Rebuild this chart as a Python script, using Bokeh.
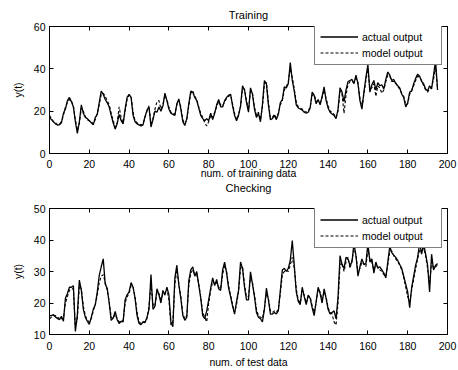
from bokeh.plotting import figure
from bokeh.models import FixedTicker, LinearAxis, Range1d, Title
from bokeh.layouts import column
from bokeh.embed import file_html
from bokeh.resources import INLINE

# ---------------- data ----------------
train_actual = [
    17, 16, 15, 14, 13.5, 13.5, 14.5, 19, 21, 25,
    26.5, 24.5, 22, 15, 9.5, 15, 23, 19, 17, 16.5,
    15.5, 14.5, 13.5, 17, 18.5, 24, 29.5, 28, 25.5, 24,
    22, 18, 14.5, 11.5, 14, 18.5, 15.5, 14, 21, 26.5,
    28, 26.5, 18, 15, 14, 13.5, 13, 13.5, 17.5, 20.5,
    22, 12.5, 16, 20, 19.5, 22, 20, 22.5, 28.5, 25,
    21, 19, 18.5, 18, 23.5, 25.8, 21, 15, 13.2, 16.5,
    23.5, 29.5, 29, 26.5, 25, 21.5, 18, 16.5, 15.5, 16.5,
    15.5, 19, 16, 19, 23, 25.5, 22, 22, 25, 26.5,
    27.5, 28, 22.5, 18, 15.5, 18, 22.5, 32, 30, 24,
    19.5, 31, 28, 21, 17, 19, 15, 23, 34.5, 33,
    23, 16, 16.5, 18, 16, 18.5, 24, 25.5, 31.5, 31,
    33, 43, 34.5, 29.5, 23, 21.5, 21, 20.5, 19.5, 19,
    19.5, 21.5, 29, 27.5, 23.5, 25.5, 23, 27, 31.5, 25,
    21.5, 19.5, 18.7, 18, 16.5, 21, 31, 29, 24.5, 30,
    34, 34.5, 35, 33, 37, 33, 25, 21, 29, 36,
    42, 29, 32.5, 34.5, 30, 33.5, 32, 32.5, 30.5, 35,
    38.5, 37, 34.5, 35, 33, 32, 31, 28, 26.5, 22,
    24, 29, 29.5, 33, 35.5, 37.5, 36.5, 34, 33, 30.5,
    29.5, 32, 30.5, 37, 44, 30,
]
train_model = [
    18, 16.5, 15, 14.5, 13.5, 14, 15, 18, 22, 24,
    25.5, 25, 22.5, 16, 11, 14, 21.5, 20, 17.5, 16,
    15.5, 15, 14, 16, 19, 23, 28, 28.5, 27, 25,
    23, 19, 15.5, 12.5, 14.5, 22, 17, 14.5, 20, 25.5,
    27.5, 27, 19.5, 15.5, 14.5, 14, 13.5, 14, 17, 20,
    22.5, 14, 16.5, 21, 24.5, 25, 21, 23, 27.5, 25.5,
    22, 19.5, 19, 18.5, 23, 25, 22, 16, 14, 16,
    22.5, 28.5, 29.5, 27, 25.5, 22, 19, 17, 14.5, 13,
    15, 18, 17, 19.5, 22, 24.5, 23, 22.5, 24.5, 26,
    27, 27.5, 23.5, 19, 16, 18.5, 22, 30.5, 30.5, 25,
    20.5, 29.5, 28.5, 22, 18, 19.5, 16, 22, 33, 33.5,
    24.5, 17, 17, 18.5, 17, 19, 23, 25, 30, 31.5,
    34, 40, 36, 30.5, 24.5, 22, 21.5, 21, 20, 19.5,
    20, 22, 27.5, 28, 24.5, 25, 24, 26.5, 30, 26,
    22.5, 20, 19.5, 18.5, 17, 20, 29.5, 28, 19, 27.5,
    32.5, 34, 34, 33.5, 35.5, 33.5, 26, 22, 28, 34.5,
    40, 30.5, 31, 33, 27, 32, 31, 28.5, 30, 34,
    37, 36.5, 34, 34, 33.5, 31.5, 30.5, 28.5, 27, 23,
    23.5, 28, 30, 32, 34.5, 36.5, 36, 34.5, 32, 30,
    29, 30.5, 31.5, 35, 41, 31,
]
test_actual = [
    16, 16, 16.3, 15.5, 15.2, 14.7, 15.8, 14.2, 21.5, 23,
    25, 25, 25.5, 11, 16.3, 27.3, 24, 18, 15.5, 14.2,
    13.2, 15.5, 18, 19.4, 23.5, 28.8, 31.5, 34, 26, 24.7,
    20, 14.5, 15.2, 17.3, 14.7, 13.5, 14.2, 14, 21, 22.6,
    23.5, 26.5, 25, 21.5, 16, 13.5, 13.1, 14, 13.8, 15.5,
    18, 29, 18, 19, 24.5, 22.6, 20, 24, 22.5, 25,
    22.6, 14, 12.5, 28, 32, 25.7, 21.5, 16, 14.5, 15.5,
    27, 30.5, 31.5, 28.5, 30, 25.7, 21.5, 16, 15, 17.5,
    21, 24.7, 28, 25.5, 27.5, 24.5, 24, 30.5, 33, 29.5,
    24.7, 22, 19, 16.5, 20.5, 24, 33, 31, 25, 21,
    21, 29.9, 26, 22, 17, 15.5, 15, 14, 18, 24.7,
    21, 16.5, 16.5, 17, 16.5, 17.5, 24, 30.5, 31, 30,
    31, 33.5, 39.8, 32, 23.5, 20.5, 19.5, 25, 22, 19.5,
    22.5, 21.5, 18.5, 16, 20.5, 25, 23, 20, 24.5, 21.5,
    18, 16.5, 17, 17.5, 15, 22, 35, 32, 31, 34.5,
    34, 32, 33, 39, 35, 28.5, 31.5, 34, 32.2, 32.5,
    39, 33, 34, 29.5, 33, 31, 31.5, 30.5, 29.5, 28,
    33, 38, 36, 35.2, 34.5, 33.5, 32.2, 31, 28.5, 26,
    23.5, 18.5, 25, 28.5, 32, 34.5, 39, 35.5, 39, 35.5,
    32, 23.5, 35.5, 30.5, 32, 32.5,
]
test_model = [
    15, 15.5, 16, 16, 15, 15.5, 15, 15, 20, 22,
    24, 24.5, 24.5, 12, 15, 25.5, 24.5, 19, 16, 14.5,
    14, 15, 17.5, 19.5, 22.5, 26.5, 28.5, 29, 26.5, 24,
    20.5, 15.5, 15, 16.5, 15, 14, 14, 14.5, 20, 22,
    23, 25.5, 25, 22, 17, 14, 13.5, 14, 14, 15,
    19, 26, 19.5, 19, 23.5, 23, 21, 23, 23, 24.5,
    21, 13, 14, 26, 30.5, 26, 22, 16.5, 15, 16,
    25.5, 29.5, 30.5, 29, 29, 26, 22, 17, 15.5, 14,
    20, 24, 27, 26, 26.5, 25, 24.5, 29, 32, 30,
    25.5, 22.5, 19.5, 17, 19.5, 23.5, 31, 31.5, 26, 22,
    22, 28, 26.5, 22.5, 18, 16, 15.5, 15, 18.5, 23,
    21.5, 17.5, 17, 17.5, 17, 18, 23, 29, 30, 30.5,
    30, 32, 34.5, 31, 24.5, 21, 20, 24, 22.5, 20,
    22, 22, 19, 17, 20, 24.5, 23.5, 21, 23.5, 22,
    18.5, 17, 16.5, 14, 13, 20, 32, 33, 30, 33,
    34.5, 31, 33.5, 37, 35.5, 29.5, 31, 33, 32.5, 31.5,
    37, 34, 33, 30.5, 32, 31.5, 30.5, 30, 29, 28.5,
    32, 36.5, 36.5, 35, 34, 33, 32, 30.5, 28, 25,
    22, 20.5, 24, 27.5, 31, 34, 37, 36, 37.5, 35,
    31, 26, 33, 31, 31.5, 32,
]
x_ticks = [0, 20, 40, 60, 80, 100, 120, 140, 160, 180, 200]
train_y_ticks = [0, 20, 40, 60]
test_y_ticks = [10, 20, 30, 40, 50]

FONT = "Liberation Sans"


def make_panel(title, xlabel, actual, model, yr, yticks, top_border,
               bottom_border, frame_h, title_standoff, legend_y,
               tick_standoff, label_standoff):
    xs = list(range(len(actual)))
    kw = {}
    if title is not None:
        kw["title"] = title
    p = figure(frame_width=398, frame_height=frame_h,
               x_range=Range1d(0, 200), y_range=Range1d(*yr),
               output_backend="svg", toolbar_location=None,
               min_border_left=49, min_border_right=10,
               min_border_top=top_border, min_border_bottom=bottom_border,
               **kw)
    if title is not None:
        p.title.align = "center"
        p.title.text_font = FONT
        p.title.text_font_size = "11px"
        p.title.text_font_style = "normal"
        p.title.text_color = "black"
        p.title.standoff = title_standoff
    p.grid.visible = False
    p.outline_line_color = "black"
    p.background_fill_color = "white"
    p.border_fill_color = "white"

    p.xaxis.ticker = FixedTicker(ticks=x_ticks)
    p.yaxis.ticker = FixedTicker(ticks=yticks)
    p.xaxis.axis_label = xlabel
    p.yaxis.axis_label = "y(t)"
    for ax in (p.xaxis, p.yaxis):
        ax.major_tick_in = 4
        ax.major_tick_out = 0
        ax.minor_tick_line_color = None
        ax.axis_line_color = "black"
        ax.major_label_text_font = FONT
        ax.major_label_text_font_size = "10.5px"
        ax.major_label_text_color = "black"
        ax.axis_label_text_font = FONT
        ax.axis_label_text_font_size = "10.5px"
        ax.axis_label_text_font_style = "normal"
        ax.axis_label_text_color = "black"
    p.xaxis.major_label_standoff = tick_standoff
    p.xaxis.axis_label_standoff = label_standoff
    p.yaxis.major_label_standoff = 4
    p.yaxis.axis_label_standoff = 7

    for side, tk in (("right", yticks), ("above", x_ticks)):
        ax = LinearAxis(ticker=FixedTicker(ticks=tk),
                        major_label_text_font_size="1px",
                        major_label_text_color=None,
                        major_label_standoff=0,
                        major_tick_in=4, major_tick_out=0,
                        minor_tick_line_color=None,
                        axis_line_color="black")
        p.add_layout(ax, side)

    p.line(xs, actual, line_color="black", line_width=1.3,
           legend_label="actual output")
    p.line(xs, model, line_color="black", line_width=1.1,
           line_dash="3 2", legend_label="model output")

    lg = p.legend[0]
    lg.location = (265, legend_y)
    lg.border_line_color = "black"
    lg.border_line_width = 1
    lg.background_fill_color = "white"
    lg.background_fill_alpha = 1
    lg.glyph_width = 38
    lg.glyph_height = 13
    lg.label_height = 13
    lg.label_width = 74
    lg.label_standoff = 4
    lg.padding = 5
    lg.spacing = 3
    lg.margin = 0
    lg.label_text_font = FONT
    lg.label_text_font_size = "10.5px"
    lg.label_text_color = "black"
    return p


# upper panel; the lower panel's heading sits right under its x-axis label
p1 = make_panel("Training", "num. of training data", train_actual,
                train_model, (0, 60), train_y_ticks, 26, 0, 127, 12, 88,
                6, -4)
p1.add_layout(Title(text="Checking", align="center", vertical_align="top",
                    text_font=FONT, text_font_size="11px",
                    text_font_style="normal", text_color="black",
                    standoff=0), "below")

p2 = make_panel(None, "num. of test data", test_actual,
                test_model, (10, 50), test_y_ticks, 13, 34, 126, 0, 86,
                7, 3)

layout = column(p1, p2, spacing=0)
open("out.html", "w").write(file_html(layout, INLINE))
